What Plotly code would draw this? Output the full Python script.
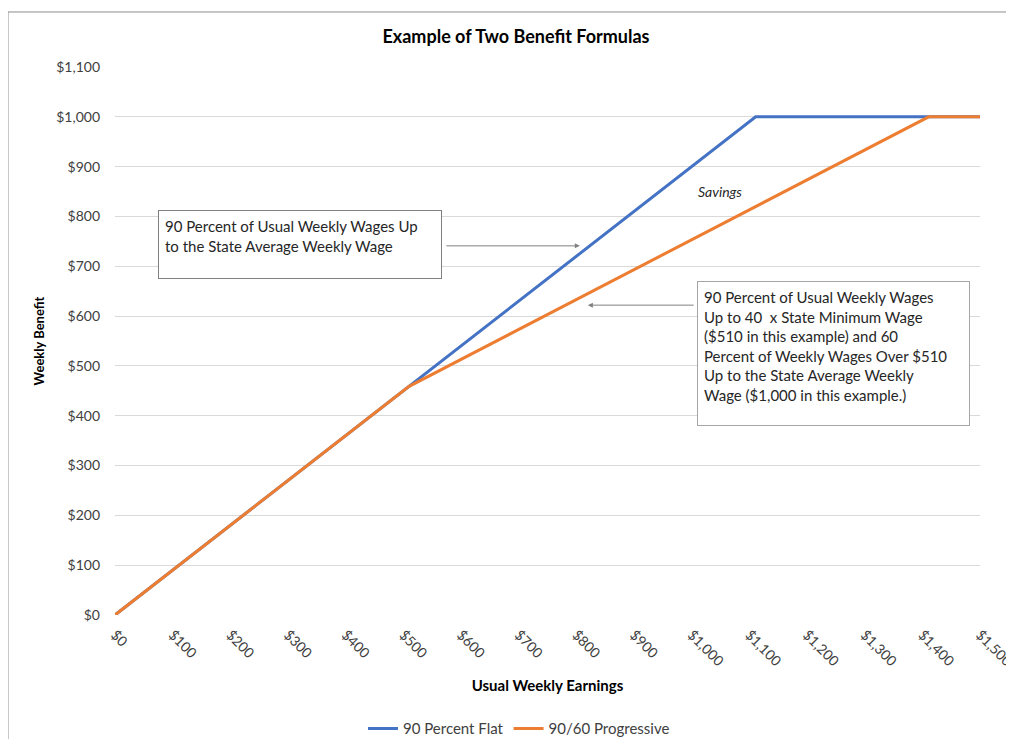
import plotly.graph_objects as go

# Data
flat_x = [0, 510, 1111, 1500]
flat_y = [0, 459, 1000, 1000]
prog_x = [0, 510, 1411, 1500]
prog_y = [0, 459, 1000, 1000]
x_ticks = list(range(0, 1501, 100))
y_ticks = list(range(0, 1101, 100))

BLUE = "#4472C4"
ORANGE = "#ED7D31"
FONT = "Lato"

fig = go.Figure()
fig.add_trace(go.Scatter(x=flat_x, y=flat_y, mode="lines", name="90 Percent Flat",
                         line=dict(color=BLUE, width=3)))
fig.add_trace(go.Scatter(x=prog_x, y=prog_y, mode="lines", name="90/60 Progressive",
                         line=dict(color=ORANGE, width=3)))

fig.update_layout(
    width=998, height=731,
    margin=dict(l=107, r=26, t=59, b=124),
    paper_bgcolor="white", plot_bgcolor="white",
    font=dict(family=FONT, size=12, color="#404040"),
    title=dict(text="<b>Example of Two Benefit Formulas</b>", x=0.509, xanchor="center",
               y=0.9603, yanchor="middle", font=dict(size=18, color="#000000", family=FONT)),
    showlegend=True,
    legend=dict(orientation="h", xref="container", yref="container",
                x=0.512, xanchor="center", y=0.014, yanchor="middle",
                itemwidth=30, font=dict(size=15, color="#404040")),
    xaxis=dict(range=[0, 1500], tickvals=x_ticks, tickformat="$,", tickangle=45,
               showgrid=False, zeroline=False, showline=False, ticks="",
               automargin=False,
               ticklabelstandoff=8, ticklabeloverflow="allow",
               tickfont=dict(size=14, color="#404040"),
               title=dict(text="<b>Usual Weekly Earnings</b>", standoff=12,
                          font=dict(size=15, color="#000000"))),
    yaxis=dict(range=[0, 1100], tickvals=y_ticks, tickformat="$,",
               showgrid=True, gridcolor="#D9D9D9", gridwidth=1, zeroline=False,
               showline=False, ticks="", ticklabelstandoff=14, automargin=False,
               tickfont=dict(size=14, color="#404040"),
               title=dict(text="<b>Weekly Benefit</b>", standoff=8,
                          font=dict(size=13, color="#000000"))),
)

# outer chart border (left and top)
fig.add_shape(type="path", xref="paper", yref="paper",
              path="M -0.1237,-0.3 L -0.1237,1.1004 L 1.1,1.1004",
              line=dict(color="#8C8C8C", width=1))

fig.add_annotation(
    x=0.0497, y=0.739, xref="paper", yref="paper", xanchor="left", yanchor="top",
    text="90 Percent of Usual Weekly Wages Up<br>to the State Average Weekly Wage",
    showarrow=False, align="left", valign="top", width=270, height=55,
    bordercolor="#7F7F7F", borderwidth=1, borderpad=6, bgcolor="white",
    font=dict(size=15, color="#262626"))
fig.add_annotation(
    x=806, y=741, ax=572, ay=741, xref="x", yref="y", axref="x", ayref="y",
    text="", showarrow=True, arrowhead=2, arrowsize=1, arrowwidth=1, arrowcolor="#808080")

fig.add_annotation(
    x=820, y=622, ax=1006, ay=622, xref="x", yref="y", axref="x", ayref="y",
    text="", showarrow=True, arrowhead=2, arrowsize=1, arrowwidth=1, arrowcolor="#808080")
fig.add_annotation(
    x=0.673, y=0.6095, xref="paper", yref="paper", xanchor="left", yanchor="top",
    text=("90 Percent of Usual Weekly Wages<br>Up to 40  x State Minimum Wage<br>"
          "($510 in this example) and 60<br>Percent of Weekly Wages Over $510<br>"
          "Up to the State Average Weekly<br>Wage ($1,000 in this example.)"),
    showarrow=False, align="left", valign="top", width=259, height=131,
    bordercolor="#A6A6A6", borderwidth=1, borderpad=6, bgcolor="white",
    font=dict(size=15, color="#262626"))

fig.add_annotation(x=1049, y=851, xref="x", yref="y", text="<i>Savings</i>",
                   showarrow=False, font=dict(size=14, color="#262626"))

fig.write_html("out.html")
